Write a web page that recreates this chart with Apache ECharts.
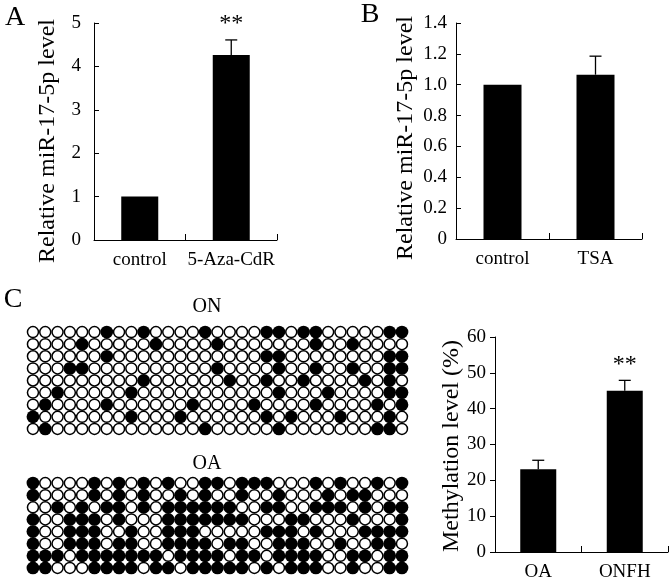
<!DOCTYPE html>
<html><head><meta charset="utf-8">
<script src="https://cdn.jsdelivr.net/npm/echarts@6/dist/echarts.min.js"></script>
<style>html,body{margin:0;padding:0;background:#fff}#c{width:670px;height:582px}</style>
</head><body><div id="c"></div>
<script>
// ---------- data ----------
const catsA = ['control', '5-Aza-CdR'];
const valsA = [1.0, 4.26];
const errA  = [0, 0.35];
const sigA  = ['', '**'];

const catsB = ['control', 'TSA'];
const valsB = [1.0, 1.065];
const errB  = [0, 0.12];
const sigB  = ['', ''];

const catsC = ['OA', 'ONFH'];
const valsC = [23.1, 45.0];
const errC  = [2.5, 2.9];
const sigC  = ['', '**'];

// methylation patterns: 1 = methylated (filled), 0 = unmethylated (open)
const onRows = [
  '0000001001000010000110110000011',
  '0000100000100001000000010010000',
  '0000001000000000000110000000011',
  '0001100000000001000010010010011',
  '0000000001000000100100100001010',
  '0010000010000000000010001000011',
  '0100001000000100001000010000101',
  '1000000010001000000101000100010',
  '0100000000000010000010000000110'
];
const oaRows = [
  '1000010101010011011100010100101',
  '1000010101001010010010001011000',
  '0010101101011111100110011101011',
  '1001110100011111110001100010001',
  '1001110010011100000111010001111',
  '1001110110011110110011100100110',
  '1110111111101111011011110011011',
  '1100011110110111110101110010011'
];

// ---------- helpers ----------
const FONT = "'Liberation Serif','Times New Roman',serif";
const axisLine = { show: true, lineStyle: { color: '#000', width: 1 } };

function dots(rows, filled) {
  const out = [];
  rows.forEach((r, ri) => {
    for (let ci = 0; ci < r.length; ci++) {
      if ((r[ci] === '1') === filled) out.push([ci, ri]);
    }
  });
  return out;
}

function errSeries(gi, vals, errs, sigs, sigSize) {
  return {
    type: 'custom', xAxisIndex: gi, yAxisIndex: gi, z: 5,
    data: vals.map((v, i) => [i, v, errs[i]]),
    renderItem: function (params, api) {
      const i = api.value(0), v = api.value(1), e = api.value(2);
      const base = api.coord([i, v]);
      const top = api.coord([i, v + e]);
      const ch = [];
      if (e > 0) {
        ch.push({ type: 'line', shape: { x1: base[0], y1: base[1], x2: top[0], y2: top[1] },
                  style: { stroke: '#000', lineWidth: 1.3 } });
        ch.push({ type: 'line', shape: { x1: top[0] - 6, y1: top[1], x2: top[0] + 6, y2: top[1] },
                  style: { stroke: '#000', lineWidth: 1.3 } });
      }
      const s = sigs[params.dataIndex];
      if (s) {
        ch.push({ type: 'text', x: top[0], y: top[1] - 4,
                  style: { text: s, font: sigSize + 'px ' + FONT, fill: '#000',
                           align: 'center', verticalAlign: 'bottom' } });
      }
      return { type: 'group', children: ch };
    }
  };
}

function catAxis(gi, cats) {
  return {
    type: 'category', gridIndex: gi, data: cats,
    axisLine: axisLine,
    axisTick: { show: true, inside: true, length: 6, alignWithLabel: false, lineStyle: { color: '#000' } },
    axisLabel: { color: '#000', fontFamily: FONT, fontSize: 19, margin: 11, interval: 0 },
    splitLine: { show: false }
  };
}
function valAxis(gi, min, max, interval, fmt, margin, inside) {
  return {
    type: 'value', gridIndex: gi, min: min, max: max, interval: interval,
    axisLine: axisLine,
    axisTick: { show: true, inside: inside, length: 5, lineStyle: { color: '#000' } },
    axisLabel: { color: '#000', fontFamily: FONT, fontSize: 19, margin: margin, formatter: fmt },
    splitLine: { show: false }
  };
}

const nCols = onRows[0].length;
const openStyle = { color: '#fff', borderColor: '#000', borderWidth: 1.5, opacity: 1 };
const fillStyle = { color: '#000', opacity: 1 };
const option = {
  animation: false,
  backgroundColor: '#fff',
  grid: [
    { left: 94, top: 23, width: 183, height: 217 },
    { left: 456, top: 23, width: 186, height: 216 },
    { left: 495, top: 337, width: 173, height: 216 },
    { left: 26.8, top: 326, width: 381.3, height: 109 },
    { left: 26.8, top: 477, width: 381.3, height: 97 }
  ],
  xAxis: [
    catAxis(0, catsA), catAxis(1, catsB), catAxis(2, catsC),
    { type: 'value', gridIndex: 3, min: -0.5, max: nCols - 0.5, show: false },
    { type: 'value', gridIndex: 4, min: -0.5, max: nCols - 0.5, show: false }
  ],
  yAxis: [
    valAxis(0, 0, 5, 1, v => String(v), 13, true),
    valAxis(1, 0, 1.4, 0.2, v => (v === 0 ? '0' : v.toFixed(1)), 9, true),
    valAxis(2, 0, 60, 10, v => String(v), 9, false),
    { type: 'value', gridIndex: 3, min: -0.5, max: onRows.length - 0.5, inverse: true, show: false },
    { type: 'value', gridIndex: 4, min: -0.5, max: oaRows.length - 0.5, inverse: true, show: false }
  ],
  series: [
    { type: 'bar', xAxisIndex: 0, yAxisIndex: 0, data: valsA, barWidth: 37, itemStyle: { color: '#000' } },
    { type: 'bar', xAxisIndex: 1, yAxisIndex: 1, data: valsB, barWidth: 38, itemStyle: { color: '#000' } },
    { type: 'bar', xAxisIndex: 2, yAxisIndex: 2, data: valsC, barWidth: 36, itemStyle: { color: '#000' } },
    errSeries(0, valsA, errA, sigA, 24),
    errSeries(1, valsB, errB, sigB, 24),
    errSeries(2, valsC, errC, sigC, 24),
    { type: 'scatter', xAxisIndex: 3, yAxisIndex: 3, data: dots(onRows, false), symbol: 'circle', symbolSize: 11,
      itemStyle: openStyle, silent: true },
    { type: 'scatter', xAxisIndex: 3, yAxisIndex: 3, data: dots(onRows, true), symbol: 'circle', symbolSize: 12.8,
      itemStyle: fillStyle, silent: true },
    { type: 'scatter', xAxisIndex: 4, yAxisIndex: 4, data: dots(oaRows, false), symbol: 'circle', symbolSize: 11,
      itemStyle: openStyle, silent: true },
    { type: 'scatter', xAxisIndex: 4, yAxisIndex: 4, data: dots(oaRows, true), symbol: 'circle', symbolSize: 12.8,
      itemStyle: fillStyle, silent: true }
  ],
  graphic: [
    { type: 'text', x: 15, y: 18, style: { text: 'A', font: '28px ' + FONT, fill: '#000', align: 'center', verticalAlign: 'middle' } },
    { type: 'text', x: 370, y: 15, style: { text: 'B', font: '28px ' + FONT, fill: '#000', align: 'center', verticalAlign: 'middle' } },
    { type: 'text', x: 13, y: 300, style: { text: 'C', font: '28px ' + FONT, fill: '#000', align: 'center', verticalAlign: 'middle' } },
    { type: 'text', x: 48, y: 141, rotation: Math.PI / 2, style: { text: 'Relative miR-17-5p level', font: '24px ' + FONT, fill: '#000', align: 'center', verticalAlign: 'middle' } },
    { type: 'text', x: 406, y: 138, rotation: Math.PI / 2, style: { text: 'Relative miR-17-5p level', font: '24px ' + FONT, fill: '#000', align: 'center', verticalAlign: 'middle' } },
    { type: 'text', x: 452, y: 446, rotation: Math.PI / 2, style: { text: 'Methylation level (%)', font: '24px ' + FONT, fill: '#000', align: 'center', verticalAlign: 'middle' } },
    { type: 'text', x: 207, y: 307, style: { text: 'ON', font: '20px ' + FONT, fill: '#000', align: 'center', verticalAlign: 'middle' } },
    { type: 'text', x: 207, y: 464, style: { text: 'OA', font: '20px ' + FONT, fill: '#000', align: 'center', verticalAlign: 'middle' } }
  ]
};
const chart = echarts.init(document.getElementById('c'), null, { renderer: 'canvas' });
chart.setOption(option);
</script>
</body></html>
